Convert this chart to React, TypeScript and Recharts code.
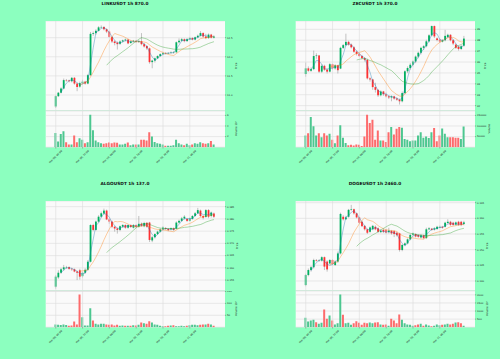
import React from 'react';
import { ComposedChart, Bar, Line, XAxis, YAxis, CartesianGrid, ReferenceLine, Cell } from 'recharts';

// time axis (one candle per hour, label every 10 candles)
const timeLabels = ['Mar 09, 04:00', 'Mar 09, 14:00', 'Mar 10, 00:00', 'Mar 10, 10:00', 'Mar 10, 20:00', 'Mar 11, 06:00'];
const timeTickIdx = [0, 10, 20, 30, 40, 50];

// LINKUSDT
const linkOpen = [10.70, 10.97, 11.06, 11.17, 11.39, 11.38, 11.36, 11.45, 11.30, 11.22, 11.31, 11.35, 11.30, 11.52, 12.60, 12.62, 12.68, 12.77, 12.78, 12.72, 12.66, 12.52, 12.40, 12.37, 12.34, 12.40, 12.43, 12.45, 12.36, 12.40, 12.42, 12.39, 12.41, 12.33, 12.28, 12.22, 11.86, 11.90, 11.96, 12.02, 12.07, 12.10, 12.09, 12.10, 12.11, 12.12, 12.38, 12.42, 12.46, 12.41, 12.46, 12.49, 12.45, 12.51, 12.55, 12.62, 12.53, 12.49, 12.58, 12.50];
const linkHigh = [10.99, 11.08, 11.20, 11.43, 11.42, 11.40, 11.47, 11.47, 11.32, 11.35, 11.40, 11.37, 11.55, 12.65, 12.66, 12.72, 12.80, 12.82, 12.80, 12.74, 12.68, 12.54, 12.43, 12.40, 12.43, 12.45, 12.48, 12.47, 12.43, 12.44, 12.44, 12.44, 12.62, 12.36, 12.30, 12.24, 11.92, 11.98, 12.04, 12.09, 12.13, 12.12, 12.12, 12.14, 12.15, 12.40, 12.48, 12.49, 12.48, 12.49, 12.52, 12.51, 12.53, 12.58, 12.67, 12.64, 12.60, 12.61, 12.60, 12.56];
const linkLow = [10.66, 10.95, 11.04, 11.15, 11.35, 11.33, 11.33, 11.27, 11.10, 11.19, 11.28, 11.27, 11.28, 11.50, 12.55, 12.58, 12.66, 12.74, 12.69, 12.62, 12.50, 12.36, 12.30, 12.19, 12.31, 12.38, 12.40, 12.33, 12.34, 12.38, 12.36, 12.36, 12.30, 12.24, 12.18, 11.82, 11.70, 11.85, 11.94, 12.00, 12.04, 12.06, 12.07, 12.08, 12.08, 12.10, 12.35, 12.40, 12.38, 12.39, 12.44, 12.43, 12.43, 12.49, 12.53, 12.50, 12.46, 12.47, 12.48, 12.48];
const linkClose = [10.97, 11.06, 11.17, 11.39, 11.38, 11.36, 11.45, 11.30, 11.21, 11.31, 11.35, 11.30, 11.52, 12.60, 12.62, 12.68, 12.77, 12.78, 12.72, 12.66, 12.52, 12.40, 12.36, 12.33, 12.40, 12.43, 12.45, 12.35, 12.40, 12.42, 12.39, 12.41, 12.33, 12.27, 12.22, 11.86, 11.90, 11.96, 12.02, 12.07, 12.10, 12.09, 12.10, 12.11, 12.12, 12.38, 12.42, 12.46, 12.41, 12.46, 12.49, 12.45, 12.51, 12.55, 12.62, 12.53, 12.49, 12.58, 12.50, 12.53];
const linkVolume = [2.66, 1.08, 2.5, 3.0, 0.95, 0.5, 0.5, 2.2, 0.95, 1.7, 1.4, 0.76, 0.95, 6.1, 3.2, 1.27, 0.95, 0.76, 0.63, 0.76, 0.89, 0.76, 0.89, 0.82, 0.5, 0.5, 0.63, 0.89, 0.38, 0.5, 0.5, 0.5, 1.4, 1.4, 1.27, 2.8, 2.0, 1.0, 0.76, 0.63, 0.5, 0.25, 0.25, 0.25, 0.38, 1.4, 0.76, 0.5, 0.38, 0.63, 0.38, 0.5, 0.76, 0.63, 0.95, 0.76, 0.63, 0.76, 1.15, 0.5];

// ZECUSDT
const zecOpen = [34.90, 35.42, 35.20, 35.35, 36.55, 36.60, 35.12, 35.65, 35.30, 35.12, 35.80, 35.42, 35.70, 35.40, 37.30, 37.55, 37.85, 37.60, 37.35, 36.95, 36.75, 36.55, 36.35, 36.20, 34.50, 34.40, 33.70, 33.45, 32.95, 33.30, 33.05, 32.85, 32.75, 32.85, 32.65, 32.55, 32.40, 33.15, 35.15, 35.45, 35.75, 36.05, 36.50, 36.85, 37.30, 37.45, 37.90, 38.45, 39.30, 38.17, 38.05, 37.87, 38.00, 38.30, 38.50, 38.00, 37.60, 37.40, 37.20, 37.50];
const zecHigh = [35.95, 35.60, 35.50, 37.05, 36.80, 36.65, 35.80, 35.75, 35.40, 35.90, 35.85, 35.80, 35.75, 37.40, 37.65, 38.60, 37.95, 37.70, 37.45, 37.05, 36.85, 36.65, 36.45, 36.30, 34.60, 34.45, 34.10, 33.50, 33.40, 33.35, 33.20, 32.95, 32.95, 32.90, 32.75, 32.65, 33.30, 35.25, 35.60, 35.90, 36.15, 36.60, 36.95, 37.40, 37.55, 38.05, 38.55, 39.35, 39.35, 38.25, 38.15, 38.10, 38.95, 38.60, 38.55, 38.10, 37.70, 37.50, 37.55, 38.40];
const zecLow = [34.65, 35.10, 35.10, 35.25, 36.30, 35.00, 35.00, 35.20, 34.95, 35.05, 35.30, 35.30, 34.95, 35.35, 37.20, 37.45, 37.50, 37.25, 36.85, 36.60, 36.45, 36.25, 36.05, 34.40, 34.20, 33.45, 33.20, 32.80, 32.85, 32.90, 32.75, 32.60, 32.40, 32.55, 32.45, 32.10, 32.30, 33.05, 35.00, 35.30, 35.60, 35.90, 36.35, 36.70, 37.10, 37.35, 37.80, 38.35, 38.20, 37.90, 37.75, 37.80, 37.90, 38.20, 37.90, 37.55, 37.20, 37.05, 37.10, 37.40];
const zecClose = [35.42, 35.20, 35.35, 36.55, 36.60, 35.12, 35.65, 35.30, 35.12, 35.80, 35.42, 35.70, 35.25, 37.30, 37.55, 37.85, 37.60, 37.35, 36.95, 36.75, 36.55, 36.35, 36.20, 34.50, 34.40, 33.70, 33.45, 32.95, 33.30, 33.05, 32.85, 32.75, 32.85, 32.65, 32.55, 32.40, 33.15, 35.15, 35.45, 35.75, 36.05, 36.50, 36.85, 37.30, 37.45, 37.90, 38.45, 39.30, 38.35, 38.02, 37.87, 38.00, 38.40, 38.50, 38.00, 37.70, 37.30, 37.20, 37.45, 38.15];
const zecVolume = [55000, 66000, 142000, 99000, 55000, 66000, 47000, 66000, 55000, 63000, 35000, 19000, 55000, 103000, 44000, 20000, 9000, 11000, 8000, 13000, 11000, 6000, 50000, 153000, 114000, 129000, 35000, 79000, 32000, 32000, 24000, 71000, 95000, 60000, 87000, 95000, 92000, 39000, 35000, 28000, 32000, 32000, 55000, 71000, 44000, 50000, 43000, 71000, 90000, 28000, 55000, 88000, 63000, 47000, 47000, 47000, 44000, 44000, 39000, 98000];

// ALGOUSDT
const algoOpen = [0.1523, 0.1561, 0.1580, 0.1594, 0.1602, 0.1603, 0.1596, 0.1594, 0.1585, 0.1590, 0.1566, 0.1580, 0.1592, 0.1625, 0.1775, 0.1755, 0.1789, 0.1809, 0.1822, 0.1834, 0.1798, 0.1789, 0.1768, 0.1761, 0.1755, 0.1768, 0.1775, 0.1764, 0.1775, 0.1764, 0.1775, 0.1768, 0.1780, 0.1770, 0.1784, 0.1785, 0.1712, 0.1725, 0.1738, 0.1748, 0.1757, 0.1763, 0.1759, 0.1757, 0.1762, 0.1760, 0.1785, 0.1792, 0.1802, 0.1800, 0.1792, 0.1800, 0.1812, 0.1823, 0.1834, 0.1812, 0.1808, 0.1836, 0.1812, 0.1822];
const algoHigh = [0.1570, 0.1590, 0.1600, 0.1612, 0.1608, 0.1606, 0.1600, 0.1597, 0.1588, 0.1596, 0.1584, 0.1598, 0.1632, 0.1778, 0.1780, 0.1793, 0.1815, 0.1830, 0.1842, 0.1838, 0.1803, 0.1793, 0.1772, 0.1765, 0.1773, 0.1779, 0.1778, 0.1778, 0.1778, 0.1779, 0.1778, 0.1812, 0.1785, 0.1788, 0.1787, 0.1788, 0.1730, 0.1742, 0.1752, 0.1762, 0.1770, 0.1766, 0.1763, 0.1765, 0.1765, 0.1790, 0.1797, 0.1808, 0.1815, 0.1804, 0.1806, 0.1816, 0.1828, 0.1845, 0.1838, 0.1815, 0.1840, 0.1840, 0.1830, 0.1826];
const algoLow = [0.1515, 0.1555, 0.1575, 0.1588, 0.1596, 0.1592, 0.1588, 0.1582, 0.1550, 0.1552, 0.1560, 0.1576, 0.1588, 0.1622, 0.1750, 0.1752, 0.1785, 0.1805, 0.1818, 0.1795, 0.1780, 0.1762, 0.1748, 0.1740, 0.1750, 0.1764, 0.1760, 0.1760, 0.1763, 0.1761, 0.1763, 0.1764, 0.1768, 0.1766, 0.1764, 0.1706, 0.1705, 0.1720, 0.1734, 0.1744, 0.1753, 0.1755, 0.1750, 0.1753, 0.1751, 0.1757, 0.1781, 0.1788, 0.1798, 0.1788, 0.1789, 0.1797, 0.1809, 0.1820, 0.1808, 0.1798, 0.1805, 0.1803, 0.1806, 0.1804];
const algoClose = [0.1564, 0.1580, 0.1594, 0.1602, 0.1603, 0.1596, 0.1594, 0.1585, 0.1580, 0.1564, 0.1580, 0.1592, 0.1625, 0.1775, 0.1755, 0.1789, 0.1809, 0.1823, 0.1834, 0.1798, 0.1789, 0.1768, 0.1761, 0.1755, 0.1770, 0.1775, 0.1764, 0.1775, 0.1767, 0.1775, 0.1767, 0.1780, 0.1772, 0.1783, 0.1768, 0.1714, 0.1725, 0.1738, 0.1748, 0.1757, 0.1765, 0.1759, 0.1754, 0.1762, 0.1755, 0.1785, 0.1792, 0.1802, 0.1809, 0.1792, 0.1802, 0.1812, 0.1823, 0.1836, 0.1812, 0.1805, 0.1836, 0.1809, 0.1826, 0.1809];
const algoVolume = [11, 10, 9, 11, 9, 6, 7, 24, 11, 137, 42, 7, 7, 80, 28, 14, 11, 14, 14, 11, 10, 11, 7, 10, 6, 7, 6, 6, 6, 8, 7, 10, 20, 17, 14, 25, 20, 11, 10, 6, 4, 4, 6, 7, 8, 4, 4, 6, 4, 6, 8, 10, 10, 8, 10, 11, 11, 14, 11, 6];

// DOGEUSDT
const dogeOpen = [0.1387, 0.1419, 0.1435, 0.1444, 0.1467, 0.1465, 0.1465, 0.1476, 0.1462, 0.1456, 0.1467, 0.1451, 0.1462, 0.1488, 0.1605, 0.1597, 0.1605, 0.1627, 0.1629, 0.1616, 0.1603, 0.1589, 0.1576, 0.1565, 0.1557, 0.1565, 0.1573, 0.1568, 0.1556, 0.1563, 0.1563, 0.1556, 0.1560, 0.1559, 0.1554, 0.1552, 0.1499, 0.1515, 0.1520, 0.1533, 0.1547, 0.1550, 0.1547, 0.1539, 0.1546, 0.1537, 0.1565, 0.1567, 0.1564, 0.1566, 0.1570, 0.1573, 0.1573, 0.1585, 0.1589, 0.1586, 0.1580, 0.1589, 0.1589, 0.1582];
const dogeHigh = [0.1423, 0.1440, 0.1448, 0.1471, 0.1470, 0.1469, 0.1479, 0.1478, 0.1466, 0.1470, 0.1470, 0.1466, 0.1494, 0.1618, 0.1610, 0.1608, 0.1630, 0.1643, 0.1631, 0.1618, 0.1605, 0.1591, 0.1578, 0.1567, 0.1574, 0.1579, 0.1577, 0.1571, 0.1565, 0.1567, 0.1566, 0.1570, 0.1563, 0.1562, 0.1557, 0.1554, 0.1518, 0.1523, 0.1536, 0.1550, 0.1555, 0.1552, 0.1549, 0.1549, 0.1548, 0.1570, 0.1572, 0.1569, 0.1572, 0.1576, 0.1577, 0.1576, 0.1589, 0.1597, 0.1592, 0.1589, 0.1590, 0.1592, 0.1592, 0.1592];
const dogeLow = [0.1383, 0.1415, 0.1430, 0.1440, 0.1462, 0.1461, 0.1462, 0.1435, 0.1430, 0.1453, 0.1450, 0.1448, 0.1458, 0.1485, 0.1593, 0.1595, 0.1602, 0.1624, 0.1612, 0.1600, 0.1583, 0.1572, 0.1561, 0.1550, 0.1554, 0.1562, 0.1562, 0.1553, 0.1553, 0.1553, 0.1551, 0.1552, 0.1548, 0.1540, 0.1542, 0.1494, 0.1495, 0.1512, 0.1517, 0.1530, 0.1544, 0.1539, 0.1538, 0.1536, 0.1534, 0.1534, 0.1562, 0.1560, 0.1561, 0.1563, 0.1568, 0.1567, 0.1571, 0.1583, 0.1576, 0.1576, 0.1577, 0.1576, 0.1575, 0.1578];
const dogeClose = [0.1419, 0.1435, 0.1444, 0.1467, 0.1465, 0.1466, 0.1476, 0.1446, 0.1437, 0.1467, 0.1454, 0.1462, 0.1488, 0.1614, 0.1597, 0.1603, 0.1627, 0.1629, 0.1616, 0.1603, 0.1586, 0.1575, 0.1565, 0.1554, 0.1571, 0.1576, 0.1565, 0.1557, 0.1560, 0.1557, 0.1554, 0.1561, 0.1552, 0.1550, 0.1546, 0.1499, 0.1515, 0.1520, 0.1533, 0.1547, 0.1552, 0.1542, 0.1541, 0.1546, 0.1537, 0.1565, 0.1568, 0.1563, 0.1568, 0.1573, 0.1573, 0.1570, 0.1586, 0.1589, 0.1579, 0.1579, 0.1587, 0.1579, 0.1579, 0.1587];
const dogeVolume = [580, 350, 415, 460, 310, 210, 270, 1100, 520, 730, 415, 170, 250, 2020, 770, 250, 270, 145, 250, 375, 270, 145, 270, 250, 290, 250, 290, 310, 170, 145, 170, 85, 520, 415, 250, 790, 460, 250, 170, 145, 85, 125, 170, 210, 85, 170, 105, 60, 85, 170, 125, 145, 170, 210, 170, 210, 290, 310, 250, 85];

const BG = '#8cffbf';
const FACE = '#fafafa';
const GRID = '#dcdcdc';
const UP = '#00b060';
const DOWN = '#fe3032';
const WICK = '#7a7a7a';
const VOL_UP = '#4dc790';
const VOL_DOWN = '#fd6b6c';
const MA_LENGTHS = [3, 10, 20];
const MA_COLORS = ['#1f77b4', '#ff7f0e', '#2ca02c'];
const FONT = 'DejaVu Sans';

const PLOT_LEFT = 45.7;
const PLOT_W = 179.3;
const AXIS_W = 250 - PLOT_LEFT - PLOT_W;
const PRICE_TOP = 21;
const PRICE_H = 89.5;
const VOL_H = 36.2;
const XLAB_H = 22;
const PAD = { left: 8.7, right: 9.7 };

function buildRows(open: number[], high: number[], low: number[], close: number[], volume: number[]) {
  return close.map((c, i) => {
    const row: any = {
      i,
      open: open[i],
      high: high[i],
      low: low[i],
      close: c,
      range: [low[i], high[i]],
      vol: volume[i],
      up: c >= open[i],
    };
    MA_LENGTHS.forEach((n, k) => {
      row['ma' + k] = i >= n - 1 ? close.slice(i - n + 1, i + 1).reduce((a, b) => a + b, 0) / n : null;
    });
    return row;
  });
}

const Candle = (props: any) => {
  const { x, y, width, height, payload } = props;
  if (!payload) return null;
  const { open, close, high, low } = payload;
  const top = Math.min(y, y + height);
  const h = Math.abs(height);
  const span = high - low;
  const k = span > 0 ? h / span : 0;
  const yOpen = top + (high - open) * k;
  const yClose = top + (high - close) * k;
  const color = close >= open ? UP : DOWN;
  const cx = x + width / 2;
  return (
    <g>
      <line x1={cx} x2={cx} y1={top} y2={top + h} stroke={WICK} strokeWidth={0.45} />
      <rect x={cx - 0.9} y={Math.min(yOpen, yClose)} width={1.8} height={Math.max(Math.abs(yClose - yOpen), 0.4)} fill={color} />
    </g>
  );
};

const TimeTick = (props: any) => {
  const { x, y, payload } = props;
  const label = timeLabels[timeTickIdx.indexOf(payload.value)];
  if (!label) return null;
  const cy = y + 8.6;
  return (
    <text x={x} y={cy} transform={`rotate(-45 ${x} ${cy})`} textAnchor="middle" dominantBaseline="central" fontSize={2.5} fontFamily={FONT} fill="#222">
      {label}
    </text>
  );
};

const yTick = { fontSize: 2.5, fill: '#222', fontFamily: FONT };

interface PanelProps {
  x0: number;
  y0: number;
  title: string;
  rows: any[];
  priceDomain: number[];
  priceTicks: number[];
  priceFmt: (v: number) => string;
  volDomain: number[];
  volTicks: number[];
  volLabel: string;
  priceLabelX: number;
  volLabelX: number;
}

function Panel({ x0, y0, title, rows, priceDomain, priceTicks, priceFmt, volDomain, volTicks, volLabel, priceLabelX, volLabelX }: PanelProps) {
  const priceMid = PRICE_TOP + PRICE_H / 2;
  const volMid = PRICE_TOP + PRICE_H + VOL_H / 2;
  return (
    <div style={{ position: 'absolute', left: x0, top: y0, width: 250, height: 180 }}>
      <div style={{ position: 'absolute', left: 0, top: PRICE_TOP }}>
        <ComposedChart width={250} height={PRICE_H} data={rows} margin={{ top: 0, right: 0, bottom: 0, left: PLOT_LEFT }}>
          <CartesianGrid vertical={false} stroke={GRID} strokeWidth={0.6} fill={FACE} />
          <XAxis dataKey="i" hide padding={PAD} />
          <YAxis
            orientation="right"
            width={AXIS_W}
            domain={priceDomain}
            ticks={priceTicks}
            allowDataOverflow
            interval={0}
            tickFormatter={priceFmt}
            tick={yTick}
            tickSize={1.2}
            tickMargin={0.8}
            axisLine={false}
            tickLine={{ stroke: '#444', strokeWidth: 0.4 }}
          />
          {timeTickIdx.map((t) => (
            <ReferenceLine key={t} x={t} stroke={GRID} strokeWidth={0.6} />
          ))}
          <Bar dataKey="range" shape={(p: any) => <Candle {...p} />} isAnimationActive={false} />
          {MA_LENGTHS.map((n, k) => (
            <Line
              key={n}
              type="linear"
              dataKey={'ma' + k}
              stroke={MA_COLORS[k]}
              strokeOpacity={0.65}
              strokeWidth={0.6}
              dot={false}
              activeDot={false}
              connectNulls={false}
              isAnimationActive={false}
            />
          ))}
        </ComposedChart>
      </div>
      <div style={{ position: 'absolute', left: 0, top: PRICE_TOP + PRICE_H }}>
        <ComposedChart width={250} height={VOL_H + XLAB_H} data={rows} margin={{ top: 0, right: 0, bottom: 0, left: PLOT_LEFT }}>
          <CartesianGrid vertical={false} stroke={GRID} strokeWidth={0.6} fill={FACE} />
          <XAxis
            dataKey="i"
            height={XLAB_H}
            padding={PAD}
            interval={9}
            tick={<TimeTick />}
            tickSize={1.2}
            tickMargin={0}
            axisLine={false}
            tickLine={{ stroke: '#444', strokeWidth: 0.4 }}
          />
          <YAxis
            orientation="right"
            width={AXIS_W}
            domain={volDomain}
            ticks={volTicks}
            allowDataOverflow
            interval={0}
            tick={yTick}
            tickSize={1.2}
            tickMargin={0.8}
            axisLine={false}
            tickLine={{ stroke: '#444', strokeWidth: 0.4 }}
          />
          {timeTickIdx.map((t) => (
            <ReferenceLine key={t} x={t} stroke={GRID} strokeWidth={0.6} />
          ))}
          <Bar dataKey="vol" barSize={2} isAnimationActive={false}>
            {rows.map((r) => (
              <Cell key={r.i} fill={r.up ? VOL_UP : VOL_DOWN} />
            ))}
          </Bar>
        </ComposedChart>
      </div>
      <svg width={250} height={180} style={{ position: 'absolute', left: 0, top: 0, pointerEvents: 'none' }}>
        <text x={125} y={4.8} textAnchor="middle" fontSize={4.3} fontWeight="bold" fontFamily={FONT} fill="#111">
          {title}
        </text>
        <text x={priceLabelX} y={priceMid} transform={`rotate(-90 ${priceLabelX} ${priceMid})`} textAnchor="middle" dominantBaseline="central" fontSize={2.6} fontFamily={FONT} fill="#222">
          Price
        </text>
        <text x={volLabelX} y={volMid} transform={`rotate(-90 ${volLabelX} ${volMid})`} textAnchor="middle" dominantBaseline="central" fontSize={2.6} fontFamily={FONT} fill="#222">
          {volLabel}
        </text>
      </svg>
    </div>
  );
}

export default function App() {
  const link = buildRows(linkOpen, linkHigh, linkLow, linkClose, linkVolume);
  const zec = buildRows(zecOpen, zecHigh, zecLow, zecClose, zecVolume);
  const algo = buildRows(algoOpen, algoHigh, algoLow, algoClose, algoVolume);
  const doge = buildRows(dogeOpen, dogeHigh, dogeLow, dogeClose, dogeVolume);

  return (
    <div style={{ position: 'fixed', left: 0, top: 0, width: 500, height: 359, background: BG, overflow: 'hidden' }}>
      <Panel
        x0={0}
        y0={0}
        title="LINKUSDT 1h 870.0"
        rows={link}
        priceDomain={[10.595, 12.936]}
        priceTicks={[11.0, 11.5, 12.0, 12.5]}
        priceFmt={(v) => v.toFixed(1)}
        volDomain={[0, 6.83]}
        volTicks={[2, 4, 6]}
        volLabel="Volume  10³"
        priceLabelX={236}
        volLabelX={236.5}
      />
      <Panel
        x0={250}
        y0={0}
        title="ZECUSDT 1h 370.0"
        rows={zec}
        priceDomain={[31.553, 39.765]}
        priceTicks={[32, 33, 34, 35, 36, 37, 38, 39]}
        priceFmt={(v) => String(v)}
        volDomain={[0, 170800]}
        volTicks={[50000, 100000, 150000]}
        volLabel="Volume"
        priceLabelX={235.5}
        volLabelX={240}
      />
      <Panel
        x0={0}
        y0={180}
        title="ALGOUSDT 1h 137.0"
        rows={algo}
        priceDomain={[0.15074, 0.18732]}
        priceTicks={[0.155, 0.16, 0.165, 0.17, 0.175, 0.18, 0.185]}
        priceFmt={(v) => v.toFixed(3)}
        volDomain={[0, 152]}
        volTicks={[50, 100, 150]}
        volLabel="Volume  10³"
        priceLabelX={237.5}
        volLabelX={236.5}
      />
      <Panel
        x0={250}
        y0={180}
        title="DOGEUSDT 1h 2460.0"
        rows={doge}
        priceDomain={[0.13697, 0.16553]}
        priceTicks={[0.14, 0.145, 0.15, 0.155, 0.16, 0.165]}
        priceFmt={(v) => v.toFixed(3)}
        volDomain={[0, 2240]}
        volTicks={[500, 1000, 1500, 2000]}
        volLabel="Volume  10³"
        priceLabelX={237.5}
        volLabelX={237.5}
      />
    </div>
  );
}
